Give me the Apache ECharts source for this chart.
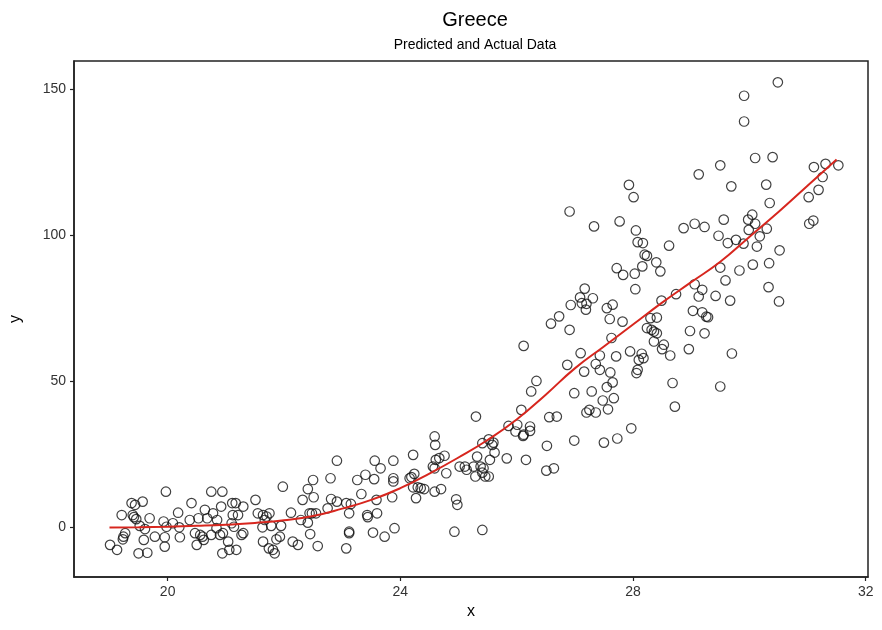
<!DOCTYPE html>
<html>
<head>
<meta charset="utf-8">
<title>Greece</title>
<script src="https://cdn.jsdelivr.net/npm/echarts@6/dist/echarts.min.js"></script>
<style>
  html, body { margin: 0; padding: 0; background: #fff; }
  #main { width: 882px; height: 630px; }
</style>
</head>
<body>
<div id="main"></div>
<script>
const actualX = [
  19.01, 19.13, 19.21, 19.24, 19.27, 19.23, 19.38, 19.44, 19.40, 19.42, 19.46, 19.57, 19.52, 19.61, 19.59, 19.50,
  19.65, 19.69, 19.78, 19.97, 19.93, 19.98, 19.95, 19.95, 20.09, 20.18, 20.20, 20.21, 20.38, 20.41, 20.47, 20.50,
  20.53, 20.60, 20.64, 20.62, 20.56, 20.68, 20.75, 20.78, 20.75, 20.84, 20.85, 20.90, 20.94, 20.92, 20.95, 21.04,
  21.06, 20.94, 21.11, 21.12, 21.17, 21.10, 21.14, 21.21, 21.30, 21.27, 21.30, 21.18, 21.51, 21.55, 21.64, 21.67,
  21.70, 21.63, 21.75, 21.78, 21.64, 21.74, 21.81, 21.84, 21.87, 21.93, 21.95, 21.98,
  22.12, 22.15, 22.24, 22.29, 22.32, 22.41, 22.44, 22.48, 22.50, 22.51, 22.41, 22.45, 22.55, 22.58, 22.75, 22.80,
  22.81, 22.91, 22.91, 23.07, 23.15, 23.12, 23.12, 23.12, 23.07, 23.26, 23.33, 23.40, 23.43, 23.44, 23.55, 23.56,
  23.60, 23.59, 23.53, 23.66, 23.73, 23.88, 23.88, 23.88, 23.86, 23.90, 24.16, 24.19, 24.22, 24.24, 24.22, 24.27,
  24.30, 24.35, 24.41, 24.56, 24.59, 24.60, 24.59, 24.61, 24.67, 24.70, 24.76, 24.79, 24.59, 24.93, 24.96, 24.98,
  25.02, 25.11, 25.14,
  26.12, 26.34, 26.25, 25.30, 26.08, 25.86, 26.01, 25.98, 26.11, 26.23, 26.23, 26.12, 26.52, 26.99, 27.50, 27.73,
  25.41, 25.52, 25.60, 25.62, 25.58, 25.83, 26.16, 26.51, 26.64, 25.54, 25.32, 25.26, 25.38, 25.43, 25.46, 25.52,
  25.29, 25.41, 25.41, 27.97,
  26.91, 27.33, 27.77, 28.05, 28.08, 28.17, 28.20, 28.24, 28.62, 28.40, 28.47, 27.72, 27.83, 28.03, 28.16, 28.04,
  27.17, 27.09, 27.31, 26.93, 27.12, 27.20, 27.19, 27.55, 27.65, 26.73, 26.59, 26.91, 27.60, 27.82, 28.49, 28.30,
  28.41, 28.24, 28.32, 28.36, 28.41, 27.63, 28.36, 28.53, 28.50, 28.64, 27.95, 28.15, 28.18, 28.10, 28.08, 28.06,
  27.10, 27.43, 27.71, 26.87, 27.36, 27.43, 27.16, 27.61, 27.65, 27.55, 27.29, 26.99, 27.67, 27.48, 27.57, 27.25,
  27.20, 27.36, 26.69, 26.56, 28.68, 28.01,
  29.13, 29.69, 30.29, 30.35, 28.87, 29.06, 29.23, 29.56, 29.98, 30.05, 30.10, 29.99, 30.30, 29.47, 29.63, 29.77,
  29.90, 30.18, 30.13, 29.50, 29.83, 30.06, 30.34, 29.59, 29.06, 29.19, 29.13, 28.74, 29.42, 29.67, 30.33, 29.03,
  29.19, 29.26, 29.29, 28.98, 29.23, 28.96, 29.70, 29.50, 28.72,
  29.91, 29.91, 30.49, 30.10, 30.40, 29.50, 27.93,
  30.52, 30.51, 31.11, 31.31, 31.53, 31.26, 31.19, 31.02, 31.03, 31.10
];
const actualY = [
  -5.9, -7.6, 4.3, -3.1, -1.9, -4.0, 8.4, 7.8, 4.3, 3.6, 2.9, 8.9, 0.6, -0.5, -4.2, -8.8,
  -8.6, 3.2, -3.1, 12.3, 2.1, 0.3, -3.3, -6.5, 1.5, 5.1, 0.1, -3.3, 2.6, 8.4, -1.9, -5.9,
  3.2, -3.1, 6.1, -4.2, -2.5, 3.2, 12.3, 4.9, -2.5, -0.2, 2.6, -2.5, 12.3, 7.2, -1.9, -4.8,
  -7.6, -8.8, 8.4, 4.3, 8.4, 1.5, 0.3, 4.3, 7.2, -2.5, -1.9, -7.6, 9.5, 4.9, 4.3, 2.6,
  3.8, 0.1, 4.9, 0.6, -4.8, -7.1, -7.6, -8.8, -4.0, -3.1, 0.6, 14.0,
  5.1, -4.8, -5.9, 2.6, 9.5, 13.2, 4.9, 4.9, 16.3, 10.4, 1.7, -2.2, 4.9, -6.3, 6.6, 16.9,
  9.8, 22.9, 8.9, 8.4, 8.1, 4.9, -1.4, -1.9, -7.1, 16.3, 11.5, 18.1, 4.3, 3.6, 16.6, 22.9,
  4.9, 9.5, -1.7, 20.3, -3.1, 22.9, 16.9, 15.8, 10.4, -0.2, 16.9, 17.3, 24.9, 18.4, 13.8, 10.1,
  13.8, 13.5, 13.2, 20.9, 31.2, 28.3, 20.3, 23.2, 23.8, 13.2, 24.6, 18.6, 12.3, -1.4, 9.7, 7.8,
  20.9, 20.9, 19.8,
  62.2, 50.2, 46.6, 38.0, 40.3, 34.8, 35.2, 32.9, 31.4, 34.6, 33.1, 31.8, 28.0, 29.8, 29.1, 30.5,
  28.9, 30.2, 29.1, 25.7, 28.3, 23.7, 23.2, 19.5, 20.3, 23.2, 24.3, 20.9, 20.9, 20.3, 17.5, 17.5,
  17.5, 18.8, -0.8, 34.0,
  108.2, 103.1, 104.8, 101.7, 97.7, 97.4, 93.4, 93.0, 96.5, 90.8, 87.7, 88.8, 86.5, 86.9, 89.4, 81.6,
  81.8, 78.8, 78.5, 76.2, 76.8, 76.6, 74.6, 75.1, 76.3, 72.3, 69.8, 67.7, 71.4, 70.5, 77.7, 71.7,
  71.9, 68.3, 67.7, 67.1, 66.5, 64.9, 63.7, 62.6, 61.1, 58.9, 60.3, 59.5, 58.0, 57.4, 54.0, 52.9,
  59.7, 58.9, 58.6, 55.7, 56.0, 54.0, 53.4, 53.1, 49.7, 48.1, 46.6, 46.0, 44.3, 43.5, 40.5, 40.3,
  39.4, 39.4, 38.0, 37.8, 49.5, 113.1,
  120.9, 116.8, 117.4, 111.1, 102.5, 104.0, 102.9, 105.4, 105.4, 107.1, 104.0, 101.9, 102.3, 99.9, 97.4, 98.5,
  97.2, 99.7, 96.2, 89.0, 88.0, 90.0, 90.5, 84.6, 83.3, 81.4, 79.1, 79.9, 79.3, 77.7, 82.3, 74.2,
  73.7, 72.2, 72.0, 67.3, 66.5, 61.1, 59.6, 48.3, 41.4,
  147.8, 139.0, 152.4, 126.5, 126.8, 124.0, 117.3,
  94.9, 77.4, 123.4, 124.5, 124.0, 120.0, 115.6, 113.1, 104.0, 105.1
];

// fitted (predicted) curve
const fitX = [19, 19.5, 20, 20.5, 21, 21.5, 22, 22.5, 23, 23.5, 24, 24.5, 25,
              25.5, 26, 26.5, 27, 27.5, 28, 28.5, 29, 29.5, 30, 30.5, 31, 31.5];
const fitY = [0, 0.1, 0.3, 0.6, 1.0, 1.6, 2.5, 4.0, 6.5, 9.5, 13.5, 18.5, 24,
              30, 37, 45.5, 54.5, 62, 69.5, 77, 84, 91, 99.5, 108, 117, 126];

const xTicks = [20, 24, 28, 32];
const yTicks = [0, 50, 100, 150];

const FONT = '"Liberation Sans", Arial, sans-serif';

const points = actualX.map((x, i) => [x, actualY[i]]);
const fitted = fitX.map((x, i) => [x, fitY[i]]);

const chart = echarts.init(document.getElementById('main'));

chart.setOption({
  animation: false,
  backgroundColor: '#fff',
  title: {
    text: 'Greece',
    subtext: 'Predicted and Actual Data',
    left: 470,
    top: 5,
    textAlign: 'center',
    itemGap: 8,
    textStyle: { fontFamily: FONT, fontSize: 20, fontWeight: 'normal', color: '#000' },
    subtextStyle: { fontFamily: FONT, fontSize: 14, color: '#000' }
  },
  grid: {
    left: 72, right: 14, top: 61, bottom: 53,
    show: true,
    borderColor: '#222',
    borderWidth: 1.5
  },
  xAxis: {
    type: 'value',
    min: 18.39,
    max: 32.04,
    name: 'x',
    nameLocation: 'middle',
    nameGap: 27,
    nameTextStyle: { fontFamily: FONT, fontSize: 16, color: '#000' },
    axisLine: { show: true, onZero: false, lineStyle: { color: '#222', width: 1.5 } },
    axisTick: { show: true, length: 4, customValues: xTicks, lineStyle: { color: '#222', width: 1.2 } },
    axisLabel: { customValues: xTicks, fontFamily: FONT, fontSize: 14, color: '#333', margin: 8 },
    splitLine: { show: false }
  },
  yAxis: {
    type: 'value',
    min: -16.9,
    max: 159.7,
    name: 'y',
    nameLocation: 'middle',
    nameGap: 50,
    nameTextStyle: { fontFamily: FONT, fontSize: 16, color: '#000' },
    axisLine: { show: true, onZero: false, lineStyle: { color: '#222', width: 1.5 } },
    axisTick: { show: true, length: 4, customValues: yTicks, lineStyle: { color: '#222', width: 1.2 } },
    axisLabel: { customValues: yTicks, fontFamily: FONT, fontSize: 14, color: '#333', margin: 8 },
    splitLine: { show: false }
  },
  series: [
    {
      name: 'Actual',
      type: 'scatter',
      data: points,
      symbol: 'circle',
      symbolSize: 9.5,
      itemStyle: { color: 'rgba(0,0,0,0)', borderColor: '#111', borderWidth: 1.2 },
      emphasis: { disabled: true }
    },
    {
      name: 'Predicted',
      type: 'line',
      data: fitted,
      smooth: true,
      showSymbol: false,
      lineStyle: { color: '#d7261e', width: 2 },
      emphasis: { disabled: true },
      z: 3
    }
  ]
});
</script>
</body>
</html>
